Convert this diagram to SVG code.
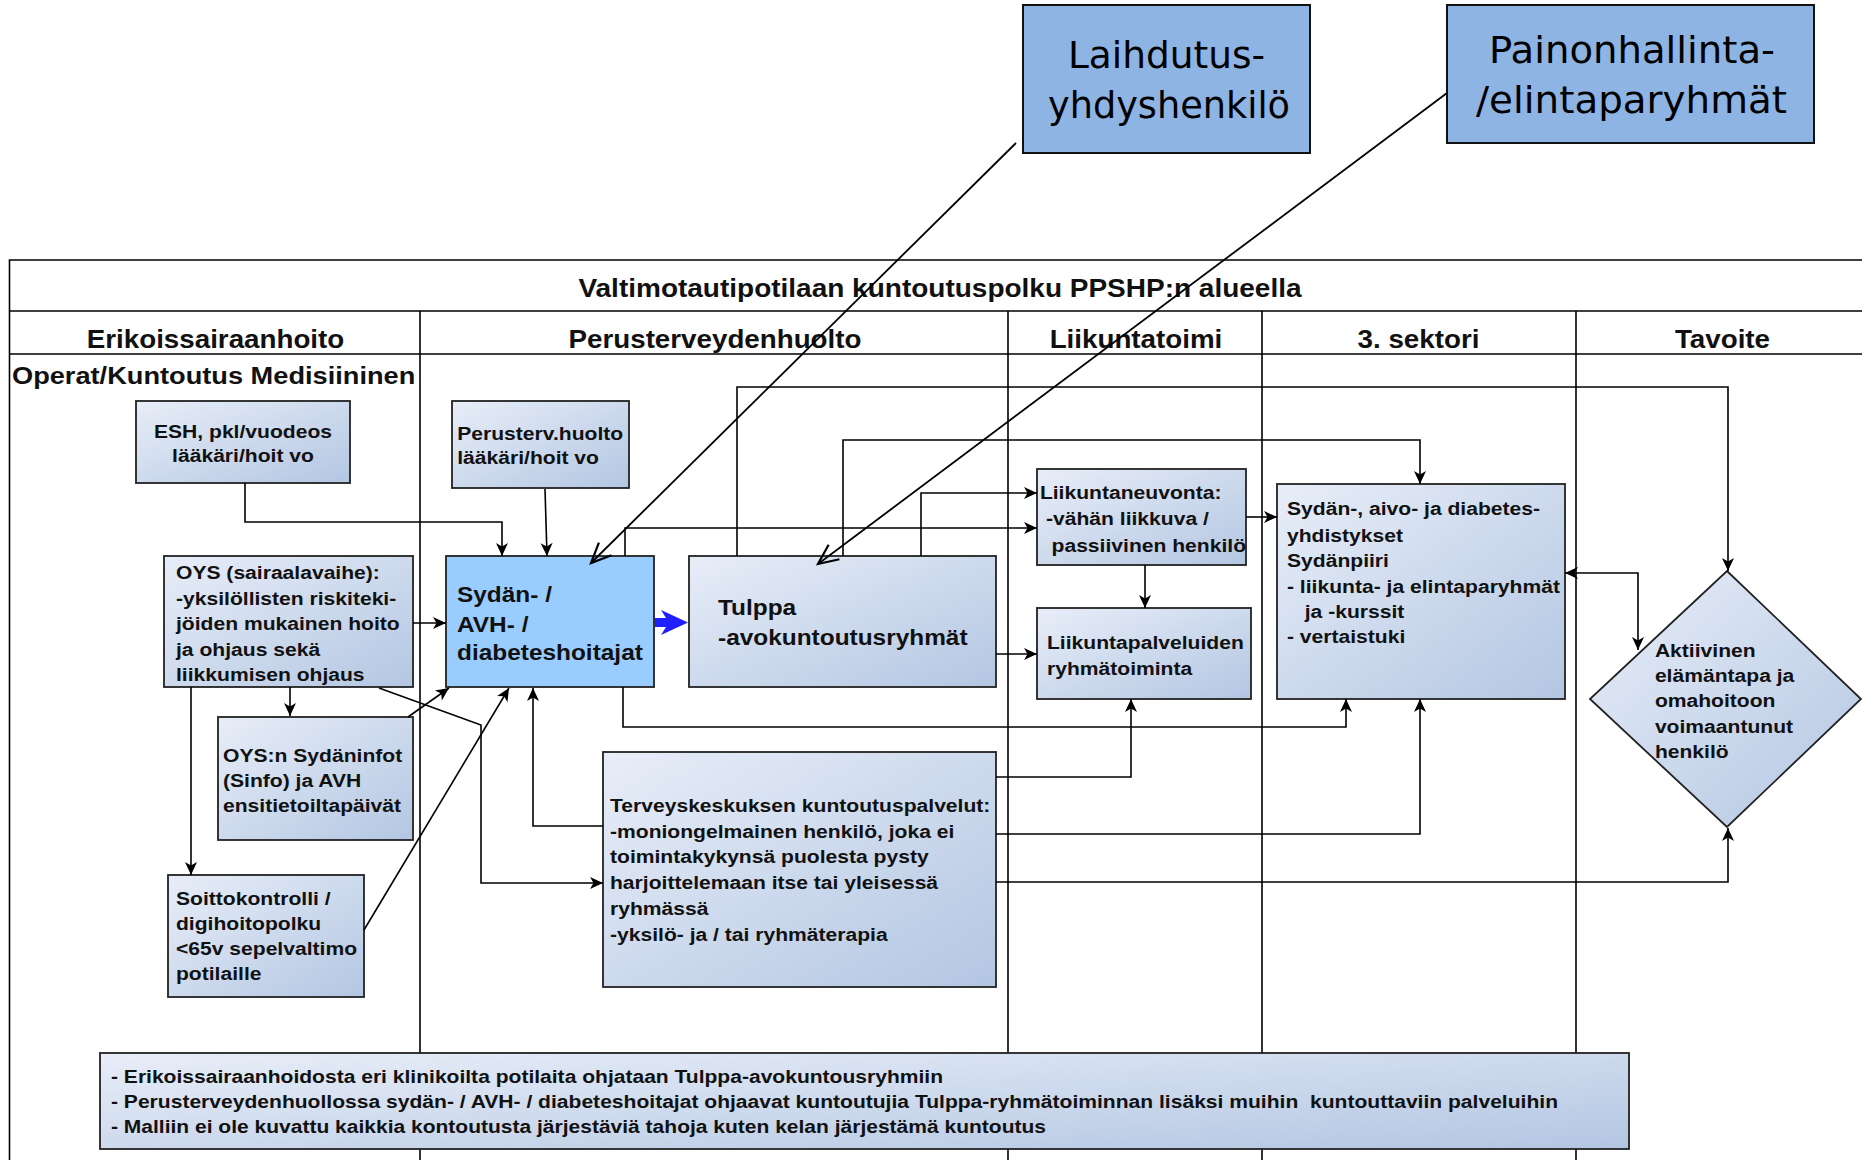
<svg xmlns="http://www.w3.org/2000/svg" width="1862" height="1160" viewBox="0 0 1862 1160">
<style>
.tbl{stroke:#000;stroke-width:1.6;fill:none}
.node{fill:url(#g);stroke:#222;stroke-width:1.8}
.hl{fill:#99ccff;stroke:#222;stroke-width:1.8}
.top{fill:#8eb4e3;stroke:#111;stroke-width:2}
.c{stroke:#000;stroke-width:1.6;fill:none}
.o{stroke:#000;stroke-width:1.8;fill:none}
.t{font-family:"Liberation Sans",Arial,sans-serif;font-weight:bold;fill:#111}
.s{font-size:19px}
.b{font-size:22px}
.h{font-size:25px}
.tt{font-family:"DejaVu Sans",sans-serif;font-size:38px;fill:#000}
</style>
<defs>
<linearGradient id="g" x1="0" y1="0" x2="1" y2="1">
<stop offset="0" stop-color="#e8eef8"/>
<stop offset="1" stop-color="#b3c6e2"/>
</linearGradient>
<marker id="ah" markerUnits="userSpaceOnUse" markerWidth="14" markerHeight="12" refX="13" refY="6" orient="auto-start-reverse" overflow="visible">
<path d="M0,0 L13,6 L0,12 L3.5,6 Z" fill="#000"/>
</marker>
<marker id="oa" markerUnits="userSpaceOnUse" viewBox="-2 -2 26 24" markerWidth="26" markerHeight="24" refX="20" refY="9" orient="auto" overflow="visible">
<path d="M0,0 L20,9 L0,18" fill="none" stroke="#000" stroke-width="2.2"/>
</marker>
</defs>
<rect width="1862" height="1160" fill="#fff"/>

<g id="table">
<path class="tbl" d="M9.5,1160 V260 H1862 M9.5,311 H1862 M9.5,354 H1862 M420,311 V1160 M1008,311 V1160 M1262,311 V1160 M1576,311 V1160"/>
<text class="t h" x="940" y="297" text-anchor="middle" transform="matrix(1.12 0 0 1 -112.8 0)">Valtimotautipotilaan kuntoutuspolku PPSHP:n alueella</text>
<text class="t h" x="215.5" y="348" text-anchor="middle" transform="matrix(1.11 0 0 1 -23.7 0)">Erikoissairaanhoito</text>
<text class="t h" x="715" y="348" text-anchor="middle" transform="matrix(1.11 0 0 1 -78.65 0)">Perusterveydenhuolto</text>
<text class="t h" x="1136" y="348" text-anchor="middle" transform="matrix(1.11 0 0 1 -124.96 0)">Liikuntatoimi</text>
<text class="t h" x="1418.5" y="348" text-anchor="middle" transform="matrix(1.11 0 0 1 -156.04 0)">3. sektori</text>
<text class="t h" x="1722.5" y="348" text-anchor="middle" transform="matrix(1.11 0 0 1 -189.48 0)">Tavoite</text>
<text class="t" font-size="24.5" x="12" y="384" transform="matrix(1.11 0 0 1 -1.32 0)">Operat/Kuntoutus Medisiininen</text>
</g>

<g id="esh">
<rect class="node" x="136" y="401" width="214" height="82"/>
<g class="t s" text-anchor="middle" transform="matrix(1.11 0 0 1 -26.73 0)">
<text x="243" y="438">ESH, pkl/vuodeos</text>
<text x="243" y="462">lääkäri/hoit vo</text>
</g>
</g>

<g id="perusterv">
<rect class="node" x="452" y="401" width="177" height="87"/>
<g class="t s" transform="matrix(1.11 0 0 1 -50.05 0)">
<text x="457" y="440">Perusterv.huolto</text>
<text x="457" y="464">lääkäri/hoit vo</text>
</g>
</g>

<g id="oys">
<rect class="node" x="164" y="556" width="249" height="131"/>
<g class="t s" transform="matrix(1.11 0 0 1 -19.36 0)">
<text x="176" y="579">OYS (sairaalavaihe):</text>
<text x="176" y="605">-yksilöllisten riskiteki-</text>
<text x="176" y="630">jöiden mukainen hoito</text>
<text x="176" y="656">ja ohjaus sekä</text>
<text x="176" y="681">liikkumisen ohjaus</text>
</g>
</g>

<g id="hoitajat">
<rect class="hl" x="446" y="556" width="208" height="131"/>
<g class="t b" transform="matrix(1.11 0 0 1 -50.27 0)">
<text x="457" y="602">Sydän- /</text>
<text x="457" y="632">AVH- /</text>
<text x="457" y="660">diabeteshoitajat</text>
</g>
</g>

<g id="tulppa">
<rect class="node" x="689" y="556" width="307" height="131"/>
<g class="t b" transform="matrix(1.11 0 0 1 -78.98 0)">
<text x="718" y="615">Tulppa</text>
<text x="718" y="645">-avokuntoutusryhmät</text>
</g>
</g>

<g id="liikuntaneuvonta">
<rect class="node" x="1037" y="469" width="209" height="96"/>
<g class="t s" transform="matrix(1.11 0 0 1 -114.51 0)">
<text x="1040" y="499">Liikuntaneuvonta:</text>
<text x="1045.5" y="525">-vähän liikkuva /</text>
<text x="1050.5" y="552">passiivinen henkilö</text>
</g>
</g>

<g id="liikuntapalvelut">
<rect class="node" x="1037" y="608" width="214" height="91"/>
<g class="t s" transform="matrix(1.11 0 0 1 -115.17 0)">
<text x="1047" y="649">Liikuntapalveluiden</text>
<text x="1047" y="675">ryhmätoiminta</text>
</g>
</g>

<g id="yhdistykset">
<rect class="node" x="1277" y="484" width="288" height="215"/>
<g class="t s" transform="matrix(1.11 0 0 1 -141.57 0)">
<text x="1287" y="515">Sydän-, aivo- ja diabetes-</text>
<text x="1287" y="542">yhdistykset</text>
<text x="1287" y="567">Sydänpiiri</text>
<text x="1287" y="593">- liikunta- ja elintaparyhmät</text>
<text x="1303" y="618">ja -kurssit</text>
<text x="1287" y="643">- vertaistuki</text>
</g>
</g>

<g id="tavoite">
<polygon class="node" points="1727,571 1861,699 1727,827 1590,699"/>
<g class="t s" transform="matrix(1.11 0 0 1 -182.16 0)">
<text x="1655" y="657">Aktiivinen</text>
<text x="1655" y="682">elämäntapa ja</text>
<text x="1655" y="707">omahoitoon</text>
<text x="1655" y="733">voimaantunut</text>
<text x="1655" y="758">henkilö</text>
</g>
</g>

<g id="sydaninfot">
<rect class="node" x="218" y="717" width="195" height="123"/>
<g class="t s" transform="matrix(1.11 0 0 1 -24.53 0)">
<text x="223" y="762">OYS:n Sydäninfot</text>
<text x="223" y="787">(Sinfo) ja AVH</text>
<text x="223" y="812">ensitietoiltapäivät</text>
</g>
</g>

<g id="soittokontrolli">
<rect class="node" x="168" y="875" width="196" height="122"/>
<g class="t s" transform="matrix(1.11 0 0 1 -19.36 0)">
<text x="176" y="905">Soittokontrolli /</text>
<text x="176" y="930">digihoitopolku</text>
<text x="176" y="955">&lt;65v sepelvaltimo</text>
<text x="176" y="980">potilaille</text>
</g>
</g>

<g id="terveyskeskus">
<rect class="node" x="603" y="752" width="393" height="235"/>
<g class="t s" transform="matrix(1.11 0 0 1 -67.1 0)">
<text x="610" y="812">Terveyskeskuksen kuntoutuspalvelut:</text>
<text x="610" y="838">-moniongelmainen henkilö, joka ei</text>
<text x="610" y="863">toimintakykynsä puolesta pysty</text>
<text x="610" y="889">harjoittelemaan itse tai yleisessä</text>
<text x="610" y="915">ryhmässä</text>
<text x="610" y="941">-yksilö- ja / tai ryhmäterapia</text>
</g>
</g>

<g id="note">
<rect class="node" x="100" y="1053" width="1529" height="96"/>
<g class="t" font-size="18">
<text x="111" y="1083" textLength="832" lengthAdjust="spacingAndGlyphs">- Erikoissairaanhoidosta eri klinikoilta potilaita ohjataan Tulppa-avokuntousryhmiin</text>
<text x="111" y="1108" textLength="1447" lengthAdjust="spacingAndGlyphs" xml:space="preserve">- Perusterveydenhuollossa sydän- / AVH- / diabeteshoitajat ohjaavat kuntoutujia Tulppa-ryhmätoiminnan lisäksi muihin  kuntouttaviin palveluihin</text>
<text x="111" y="1133" textLength="935" lengthAdjust="spacingAndGlyphs">- Malliin ei ole kuvattu kaikkia kontoutusta järjestäviä tahoja kuten kelan järjestämä kuntoutus</text>
</g>
</g>

<g id="laihdutus">
<rect class="top" x="1023" y="5" width="287" height="148"/>
<text class="tt" x="1068" y="68" textLength="197" lengthAdjust="spacingAndGlyphs">Laihdutus-</text>
<text class="tt" x="1048" y="118" textLength="242" lengthAdjust="spacingAndGlyphs">yhdyshenkilö</text>
</g>

<g id="painonhallinta">
<rect class="top" x="1447" y="5" width="367" height="138"/>
<text class="tt" x="1489" y="63" textLength="286" lengthAdjust="spacingAndGlyphs">Painonhallinta-</text>
<text class="tt" x="1476" y="113" textLength="311" lengthAdjust="spacingAndGlyphs">/elintaparyhmät</text>
</g>

<g id="connectors">
<path class="c" marker-end="url(#ah)" d="M245,483 V522 H502 V556"/>
<path class="c" marker-end="url(#ah)" d="M545,489 L547,556"/>
<path class="c" marker-end="url(#ah)" d="M413,623 H446"/>
<path class="c" marker-end="url(#ah)" d="M290,687 V716"/>
<path class="c" marker-end="url(#ah)" d="M191,687 V875"/>
<path class="c" marker-end="url(#ah)" d="M408,717 L449,688"/>
<path class="c" marker-end="url(#ah)" d="M364,930 L509,688"/>
<path class="c" marker-end="url(#ah)" d="M379,688 L481,725 V883 H603"/>
<path class="c" marker-end="url(#ah)" d="M603,826 H533 V688"/>
<path class="c" marker-end="url(#ah)" d="M623,687 V727 H1346 V699"/>
<path class="c" marker-end="url(#ah)" d="M625,556 V528 H1037"/>
<path class="c" marker-end="url(#ah)" d="M921,556 V493 H1037"/>
<path class="c" marker-end="url(#ah)" d="M996,654 H1037"/>
<path class="c" marker-end="url(#ah)" d="M843,556 V440 H1420 V484"/>
<path class="c" marker-end="url(#ah)" d="M737,556 V387 H1728 V571"/>
<path class="c" marker-end="url(#ah)" d="M1246,517 H1277"/>
<path class="c" marker-end="url(#ah)" d="M1145,565 V608"/>
<path class="c" marker-end="url(#ah)" d="M996,777 H1131 V699"/>
<path class="c" marker-end="url(#ah)" d="M996,834 H1420 V699"/>
<path class="c" marker-end="url(#ah)" d="M996,882 H1728 V828"/>
<path class="c" marker-start="url(#ah)" marker-end="url(#ah)" d="M1565,573 H1638 V650"/>
<path class="o" marker-end="url(#oa)" d="M1016,143 L591,563"/>
<path class="o" marker-end="url(#oa)" d="M1447,93 L818,564"/>
<path d="M655,618 L666,618 L661,610 L688,622.5 L661,635 L666,627 L655,627 Z" fill="#1f1fff"/>
</g>
</svg>
